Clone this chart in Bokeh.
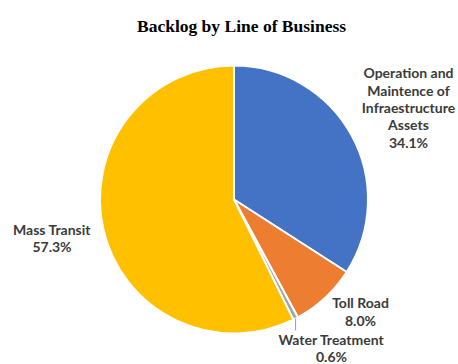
import math
from bokeh.plotting import figure
from bokeh.models import Range1d, ColumnDataSource
from bokeh.core.properties import value
from bokeh.embed import file_html
from bokeh.resources import INLINE

# Backlog shares by line of business (percent), clockwise from 12 o'clock
categories = [
    "Operation and\nMaintence of\nInfraestructure\nAssets",
    "Toll Road",
    "Water Treatment",
    "Mass Transit",
]
shares = [34.1, 8.0, 0.6, 57.3]
colors = ["#4472C4", "#ED7D31", "#A5A5A5", "#FFC000"]

title_text = "Backlog by Line of Business"

# Layout: canvas in pixels, pie centre at origin (y up)
W, H = 458, 364
CX, CY = 233.5, 199.0          # pie centre in canvas pixels from top-left
R = 134.0

# Label block centres (canvas pixels)
label_pos = [(408, 107), (360, 311), (331, 347.5), (51.5, 237.5)]


def to_data(px, py):
    return px - CX, CY - py


total = sum(shares)
starts, ends = [], []
cum = 0.0
for s in shares:
    a0 = math.pi / 2 - 2 * math.pi * cum / total
    cum += s
    a1 = math.pi / 2 - 2 * math.pi * cum / total
    # clockwise slice: draw anticlockwise from a1 to a0
    starts.append(a1)
    ends.append(a0)

p = figure(
    width=W, height=H,
    x_range=Range1d(-CX, W - CX), y_range=Range1d(CY - H, CY),
    x_axis_type=None, y_axis_type=None,
    toolbar_location=None, output_backend="svg",
    min_border=0, outline_line_color=None,
    background_fill_color="white", border_fill_color="white",
)
p.grid.visible = False

src = ColumnDataSource(dict(start=starts, end=ends, color=colors))
p.wedge(x=0, y=0, radius=R, start_angle="start", end_angle="end",
        fill_color="color", line_color="white", line_width=2, source=src)

# leader line for the thin Water Treatment slice
mid = (starts[2] + ends[2]) / 2
ex, ey = R * math.cos(mid), R * math.sin(mid)
_, ly = to_data(0, 330)
p.line([ex, ex], [ey, ly], line_color="#9A9AB0", line_width=1)

# slice labels
lx, lyy, ltxt = [], [], []
for cat, s, (px, py) in zip(categories, shares, label_pos):
    x, y = to_data(px, py)
    lx.append(x)
    lyy.append(y)
    ltxt.append(f"{cat}\n{s:.1f}%")
p.text(x=lx, y=lyy, text=ltxt, text_font=value("Lato"), text_font_style="bold",
       text_font_size="14px", text_color="#3a3a3a", text_align="center",
       text_baseline="middle", text_line_height=1.02)

# title
tx, ty = to_data(241, 25)
p.text(x=[tx], y=[ty], text=[title_text], text_font=value("Liberation Serif"),
       text_font_style="bold", text_font_size="17.5px", text_color="#000000",
       text_align="center", text_baseline="alphabetic")

open("out.html", "w").write(file_html(p, INLINE))
